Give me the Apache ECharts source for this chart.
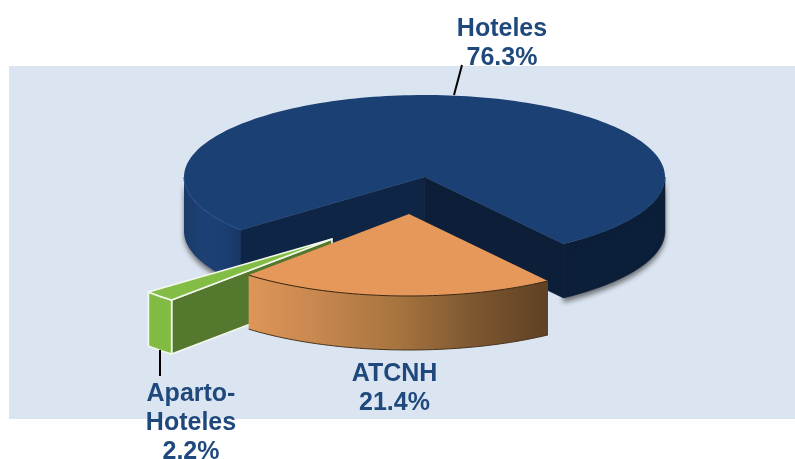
<!DOCTYPE html>
<html><head><meta charset="utf-8">
<style>html,body{margin:0;padding:0;background:#fff}#c{width:795px;height:459px}</style>
<script src="https://cdn.jsdelivr.net/npm/echarts@6/dist/echarts.min.js"></script>
</head><body><div id="c"></div>
<script>
const categories = ['Hoteles', 'Aparto-Hoteles', 'ATCNH'];
const labelLines = [['Hoteles'], ['Aparto-', 'Hoteles'], ['ATCNH']];
const shares = [76.3, 2.2, 21.4];

// Projection of the tilted disc
const RX = 240.5, RY = 82, DEPTH = 54, START_DEG = 54.7;
const centres = [[424.5, 177], [332, 239], [409, 214]];
const labelAt = [[502, 29], [191, 394], [394.5, 374]];
const LINE_H = 29;

const total = shares.reduce((a, b) => a + b, 0);
// clockwise sweep on the page: ATCNH, Aparto-Hoteles, Hoteles
const sweep = [2, 1, 0];
const spans = {};
let a0 = START_DEG;
sweep.forEach(i => { const d = shares[i] / total * 360; spans[i] = [a0, a0 + d]; a0 += d; });

function pt(c, deg, dy) {
  const r = deg * Math.PI / 180;
  return [c[0] + RX * Math.cos(r), c[1] + RY * Math.sin(r) + (dy || 0)];
}
function arc(c, from, to, dy) {
  const out = [], n = Math.max(2, Math.ceil(Math.abs(to - from) / 1.5));
  for (let k = 0; k <= n; k++) out.push(pt(c, from + (to - from) * k / n, dy));
  return out;
}
const poly = (points, style) => ({ type: 'polygon', shape: { points }, style });
const line = (points, stroke, w) => ({ type: 'polyline', shape: { points }, style: { stroke, lineWidth: w, fill: null } });
const hGrad = stops => ({ type: 'linear', x: 0, y: 0, x2: 1, y2: 0, colorStops: stops.map((c, i) => ({ offset: i / (stops.length - 1), color: c })) });
function wall(c, from, to) { return arc(c, from, to, 0).concat(arc(c, to, from, DEPTH)); }

function hoteles(c, s) {
  const [from, to] = s;            // from = about 140deg, to = about 54+360deg
  const left = [pt(c, from), c, [c[0], c[1] + DEPTH], pt(c, from, DEPTH)];
  const right = [c, pt(c, to), pt(c, to, DEPTH), [c[0], c[1] + DEPTH]];
  const shadow = { shadowBlur: 5, shadowOffsetX: 0, shadowOffsetY: 4, shadowColor: 'rgba(40,40,40,0.6)' };
  return [
    poly(wall(c, from, 180), Object.assign({ fill: hGrad(['#1a3a68', '#1d4175', '#1c3f72', '#193766']) }, shadow)),
    poly(wall(c, 360, to), Object.assign({ fill: '#0c1f39', stroke: '#0c1f39', lineWidth: 0.6 }, shadow)),
    poly(left, { fill: '#0f2545', stroke: '#0f2545', lineWidth: 0.6 }),
    poly(right, { fill: '#0c1e38', stroke: '#0c1e38', lineWidth: 0.6 }),
    poly([c].concat(arc(c, from, to)), { fill: '#1b4073' }),
    line(arc(c, from, 180), '#27508c', 1)
  ];
}
function atcnh(c, s) {
  const [from, to] = s;
  return [
    poly(wall(c, from, to), { fill: hGrad(['#de9558', '#c5864e', '#a6743f', '#7d5730', '#5f4125']) }),
    poly([c].concat(arc(c, from, to)), { fill: '#e5985a' }),
    line(arc(c, from, to), '#3b2512', 1),
    line(arc(c, from, to, DEPTH), '#4a3420', 1)
  ];
}
function aparto(c, s) {
  const [from, to] = s;
  const w = { stroke: '#f3f8ec', lineWidth: 1.6, lineJoin: 'round' };
  return [
    poly([c, pt(c, from), pt(c, from, DEPTH), [c[0], c[1] + DEPTH]], Object.assign({ fill: '#54792e' }, w)),
    poly(wall(c, from, to), Object.assign({ fill: '#82bb44' }, w)),
    poly([c].concat(arc(c, from, to)), Object.assign({ fill: '#84bd46' }, w))
  ];
}
const draw = [hoteles, aparto, atcnh];

function renderItem(params, api) {
  const i = api.value(0), v = api.value(1);
  const children = draw[i](centres[i], spans[i]).map(e => Object.assign(e, { silent: true }));
  const lines = labelLines[i].concat(v.toFixed(1) + '%');
  lines.forEach((t, k) => children.push({
    type: 'text',
    z2: 50,
    style: {
      text: t, x: labelAt[i][0], y: labelAt[i][1] + k * LINE_H,
      textAlign: 'center', textVerticalAlign: 'middle',
      fill: '#1f497d', font: 'bold 25px "Liberation Sans", Arial, sans-serif'
    }
  }));
  return { type: 'group', children };
}

const chart = echarts.init(document.getElementById('c'), null, { renderer: 'canvas' });
chart.setOption({
  animation: false,
  graphic: [
    { type: 'rect', z: -10, shape: { x: 9, y: 66, width: 786, height: 353 }, style: { fill: '#dbe5f1' } },
    { type: 'line', z: 100, shape: { x1: 462, y1: 65, x2: 454, y2: 95 }, style: { stroke: '#000', lineWidth: 2 } },
    { type: 'line', z: 100, shape: { x1: 160, y1: 350, x2: 160, y2: 376 }, style: { stroke: '#000', lineWidth: 2 } }
  ],
  series: [{
    type: 'custom', coordinateSystem: 'none', z: 10, clip: false,
    renderItem,
    encode: { itemName: 2 },
    data: categories.map((name, i) => [i, shares[i], name])
  }]
});
</script></body></html>
